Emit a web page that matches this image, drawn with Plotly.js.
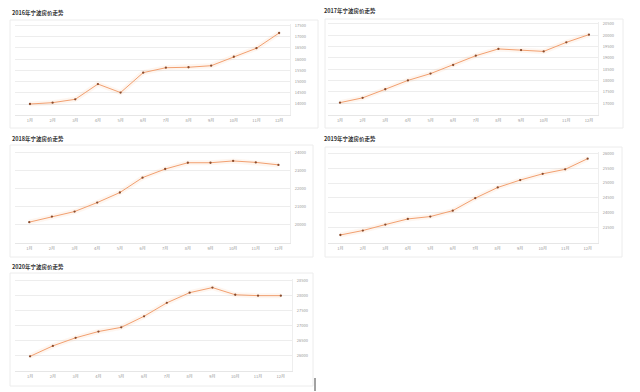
<!DOCTYPE html>
<html>
<head>
<meta charset="utf-8">
<script src="https://cdn.plot.ly/plotly-3.0.1.min.js"></script>
<style>html,body{margin:0;padding:0;background:#fff;}#chart{width:640px;height:392px;}</style>
</head>
<body>
<div id="chart"></div>
<script>
const months = ["1月","2月","3月","4月","5月","6月","7月","8月","9月","10月","11月","12月"];
const titles = ["2016年宁波房价走势","2017年宁波房价走势","2018年宁波房价走势","2019年宁波房价走势","2020年宁波房价走势"];
const price2016 = [14000,14060,14210,14890,14510,15400,15620,15640,15710,16110,16490,17170];
const price2017 = [17030,17240,17620,18010,18310,18690,19100,19400,19350,19290,19690,20030];
const price2018 = [20130,20440,20720,21220,21780,22610,23090,23440,23440,23540,23460,23320];
const price2019 = [23250,23400,23600,23790,23870,24070,24490,24850,25100,25310,25460,25820];
const price2020 = [25970,26320,26590,26800,26940,27310,27760,28100,28270,28030,28000,28000];
const ticks2016 = [14000,14500,15000,15500,16000,16500,17000,17500];
const ticks2017 = [17000,17500,18000,18500,19000,19500,20000,20500];
const ticks2018 = [20000,21000,22000,23000,24000];
const ticks2019 = [23500,24000,24500,25000,25500,26000];
const ticks2020 = [26000,26500,27000,27500,28000,28500];

const series = [price2016,price2017,price2018,price2019,price2020];
const tickSets = [ticks2016,ticks2017,ticks2018,ticks2019,ticks2020];

const W = 640, H = 392;
const panels = [
  {l:15, r:290, t:24, b:115, xr:[-0.66,11.48], yr:[13509,17571], box:[10,20,318,128], tt:[10,13]},
  {l:328, r:598, t:22, b:115, xr:[-0.53,11.40], yr:[16484,20588], box:[325,19,623,128], tt:[322,11]},
  {l:15, r:290, t:151, b:243, xr:[-0.63,11.51], yr:[18967,24094], box:[10,145,313,257], tt:[10,139]},
  {l:328, r:598, t:152, b:243, xr:[-0.55,11.46], yr:[22980,26044], box:[325,147,622,257], tt:[322,139]},
  {l:15, r:292, t:279, b:371, xr:[-0.66,11.49], yr:[25480,28557], box:[10,273,313,386], tt:[10,267]}
];

const fx = p => p / W;
const fy = p => 1 - p / H;

const data = [];
const layout = {
  width: W, height: H,
  margin: {l:0, r:0, t:0, b:0},
  paper_bgcolor: '#ffffff',
  plot_bgcolor: '#ffffff',
  showlegend: false,
  font: {family: '"Noto Sans CJK SC", "Noto Sans", sans-serif', color: '#888'},
  annotations: [],
  shapes: []
};

panels.forEach((p, i) => {
  const n = i === 0 ? '' : String(i + 1);
  const xa = 'x' + n, ya = 'y' + n;
  data.push({
    x: months, y: series[i], xaxis: xa, yaxis: ya, type: 'scatter', mode: 'lines',
    line: {color: 'rgba(245,165,110,0.10)', width: 5}, hoverinfo: 'skip'
  });
  data.push({
    x: months, y: series[i], xaxis: xa, yaxis: ya, type: 'scatter', mode: 'lines+markers',
    line: {color: '#f2a070', width: 1},
    marker: {color: '#8a4a2a', size: 2.3}
  });
  layout['xaxis' + n] = {
    domain: [fx(p.l), fx(p.r)], anchor: ya, type: 'category', range: p.xr,
    showgrid: false, zeroline: false, showline: true, linecolor: '#e6e6e6', linewidth: 1,
    ticks: '', tickfont: {size: 4, color: '#999'}, ticklabelstandoff: 1, fixedrange: true
  };
  layout['yaxis' + n] = {
    domain: [fy(p.b), fy(p.t)], anchor: xa, side: 'right', range: p.yr,
    tickvals: tickSets[i], ticktext: tickSets[i].map(v => String(v)),
    showgrid: true, gridcolor: '#ededed', gridwidth: 1, zeroline: false,
    showline: true, linecolor: '#eeeeee', linewidth: 1,
    ticks: '', tickfont: {size: 4, color: '#999'}, ticklabelstandoff: 3, fixedrange: true
  };
  layout.shapes.push({
    type: 'rect', xref: 'paper', yref: 'paper',
    x0: fx(p.box[0]), x1: fx(p.box[2]), y0: fy(p.box[3]), y1: fy(p.box[1]),
    line: {color: '#ececec', width: 1}, fillcolor: 'rgba(0,0,0,0)', layer: 'below'
  });
  layout.annotations.push({
    text: titles[i], xref: 'paper', yref: 'paper', x: fx(p.tt[0]), y: fy(p.tt[1]),
    xanchor: 'left', yanchor: 'middle', showarrow: false,
    font: {size: 5.5, color: '#333', family: '"Noto Sans CJK SC", sans-serif', weight: 'bold'}
  });
});

layout.shapes.push({
  type: 'line', xref: 'paper', yref: 'paper',
  x0: fx(315), x1: fx(315), y0: fy(391), y1: fy(378),
  line: {color: '#444', width: 1}
});

Plotly.newPlot('chart', data, layout, {displayModeBar: false, staticPlot: true});
</script>
</body>
</html>
